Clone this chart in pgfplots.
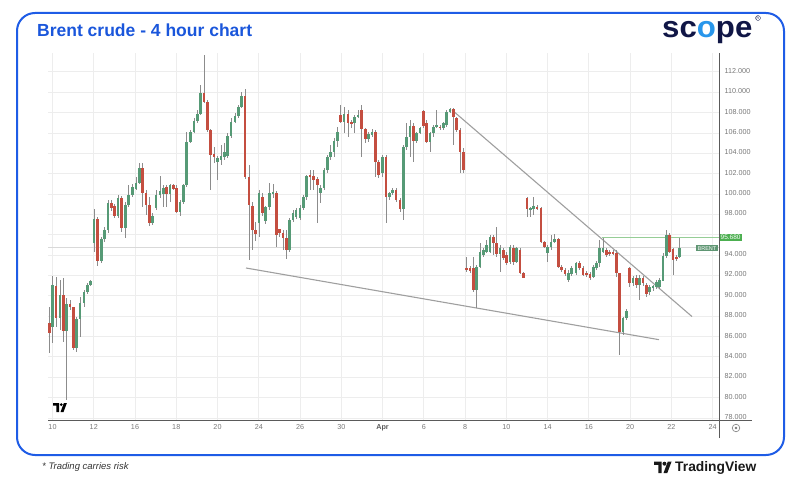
\documentclass[border=0pt]{standalone}
\usepackage{pgfplots}
\pgfplotsset{compat=1.18}
\usepackage{pgfplotstable}
\usepackage{graphicx}
\usepackage{fontspec}
\setmainfont{Liberation Sans}
\definecolor{upgreen}{RGB}{86,154,118}
\definecolor{downred}{RGB}{196,78,64}
\definecolor{wick}{RGB}{140,140,140}
\definecolor{framblue}{RGB}{30,92,230}
\definecolor{titleblue}{RGB}{26,86,219}
\definecolor{navy}{RGB}{16,22,70}
\definecolor{logoblue}{RGB}{40,150,235}
\definecolor{lblgray}{RGB}{120,120,120}
\definecolor{axgray}{RGB}{90,90,90}
\definecolor{lvlgreen}{RGB}{150,205,150}
\definecolor{boxgreen}{RGB}{76,175,80}
\definecolor{brentbox}{RGB}{95,150,115}

\pgfplotstableread{
x o h l c
49.3 87.28 88.92 84.33 86.36
52.7 86.95 91.93 85.32 91.04
56.0 90.95 91.87 86.95 87.77
60.0 87.77 91.54 86.60 90.06
63.3 90.06 91.70 85.48 86.53
66.7 86.53 89.74 79.75 89.18
70.0 89.18 89.57 88.60 88.85
73.3 88.85 88.92 84.66 84.82
76.7 84.82 87.93 84.50 87.67
80.0 87.67 89.90 85.97 89.25
84.0 89.25 90.55 88.92 90.39
87.3 90.39 91.20 90.20 91.04
90.7 91.04 91.54 90.95 91.44
94.0 95.20 98.48 94.32 97.50
97.3 97.50 97.76 92.91 93.44
101.3 93.44 95.79 93.18 95.53
104.7 95.53 96.78 95.30 96.45
108.0 96.45 99.40 96.19 99.13
111.3 99.13 99.40 98.35 98.58
114.7 98.80 99.00 97.60 97.82
118.0 97.82 99.89 97.60 99.56
121.3 99.56 99.80 96.28 96.61
125.3 96.61 99.23 95.63 98.90
128.7 98.90 100.87 98.74 99.89
132.7 99.89 101.00 99.73 100.71
136.0 100.50 101.70 100.40 101.10
139.3 101.10 103.00 101.00 102.50
142.7 102.50 103.00 98.74 100.05
146.0 100.05 100.40 97.90 98.90
149.3 98.90 99.70 96.80 97.10
152.7 97.10 98.10 96.90 97.80
156.0 98.60 100.40 98.40 99.90
160.0 99.90 101.75 99.56 100.30
163.3 100.00 100.87 98.74 100.60
166.7 100.70 100.87 98.70 100.00
170.0 100.00 101.00 99.20 100.87
173.3 100.87 101.00 100.40 100.50
176.7 100.60 100.87 98.10 98.25
180.0 98.25 99.40 97.80 99.20
183.3 99.20 101.00 99.00 100.87
186.7 100.87 106.10 100.70 105.13
190.7 105.13 106.30 104.96 106.10
194.0 106.10 107.42 105.95 107.16
197.3 107.16 108.24 106.93 107.84
200.7 107.84 110.69 107.74 109.94
204.0 109.94 113.64 108.90 108.99
207.3 108.99 109.20 106.10 106.27
210.7 106.27 106.40 100.38 103.80
214.0 103.96 104.60 103.00 103.65
217.7 103.10 103.70 101.36 103.50
221.0 103.30 104.80 102.80 103.70
224.3 103.65 104.96 103.30 104.14
227.7 103.70 105.95 103.50 105.68
231.0 105.68 107.42 105.45 107.10
235.0 107.10 107.90 106.93 107.68
238.3 107.68 108.70 107.42 108.56
241.7 108.56 110.04 108.40 109.61
245.0 109.61 110.27 101.50 101.69
249.0 101.69 102.83 93.50 98.90
252.3 98.80 99.20 94.50 96.45
255.7 96.45 97.20 95.40 96.10
259.0 97.10 100.38 95.80 100.10
262.3 99.70 100.10 97.80 98.10
265.7 97.30 98.80 97.00 98.70
269.7 98.74 101.03 98.40 100.05
273.0 100.05 101.00 99.60 100.20
276.3 100.05 100.30 94.80 95.96
279.7 96.51 96.60 95.80 96.19
283.0 96.19 96.50 94.50 95.63
286.3 95.63 96.45 93.57 94.48
289.7 94.48 97.60 94.30 97.43
293.0 97.43 98.40 97.20 98.09
296.0 97.76 98.60 97.50 98.41
300.0 97.60 98.90 97.40 98.58
303.3 98.58 99.90 98.40 99.72
306.7 99.72 101.85 99.40 101.75
310.0 101.85 102.34 100.38 101.69
313.3 101.75 102.34 100.38 101.36
317.3 101.43 101.62 97.10 100.87
320.7 100.05 100.87 99.07 100.61
324.0 100.61 102.50 100.38 102.34
327.3 102.34 103.81 102.01 103.65
330.7 103.65 104.80 103.32 104.14
334.0 104.14 105.45 103.65 105.22
337.3 105.22 106.60 104.63 106.11
340.7 107.74 108.73 106.93 107.09
344.0 107.09 108.56 105.94 107.84
348.0 107.84 108.24 105.62 106.93
351.3 107.09 107.30 106.50 106.86
354.7 106.93 107.74 105.94 107.58
358.0 107.58 108.24 107.42 107.74
361.3 108.24 108.73 103.65 106.34
365.3 106.34 106.43 104.96 105.35
368.7 105.35 106.10 105.10 105.85
372.0 105.78 106.40 105.60 106.11
375.3 106.11 106.27 101.69 103.16
378.7 103.16 103.32 101.52 101.85
382.7 102.01 103.81 101.69 103.65
386.0 103.65 103.81 97.10 99.66
389.3 99.66 100.20 99.40 100.05
392.7 100.05 100.60 99.90 100.38
396.0 100.38 100.60 99.20 99.40
400.0 99.40 99.56 98.25 98.48
403.3 98.48 104.80 97.43 104.63
406.7 104.63 106.93 104.31 105.62
410.0 105.62 107.25 103.65 106.66
413.3 106.66 106.93 103.16 105.22
416.7 105.22 106.11 104.96 106.01
420.0 106.01 106.60 105.90 106.43
423.3 108.17 108.24 106.43 106.66
426.7 106.93 107.25 104.96 105.12
430.0 105.12 106.11 104.14 105.94
433.3 105.94 106.76 105.62 106.60
436.7 106.60 108.24 106.43 106.76
440.0 106.60 106.80 106.30 106.50
443.3 106.43 107.10 106.30 106.93
446.7 106.76 108.24 106.60 108.07
450.0 108.07 108.45 107.90 108.30
453.3 108.30 108.40 104.80 107.51
456.7 107.42 107.58 106.11 106.27
460.0 106.27 106.43 102.01 104.14
463.3 104.14 104.47 102.01 102.34
466.7 92.75 93.83 92.36 92.49
470.0 92.68 92.90 92.20 92.42
473.3 92.68 93.83 90.39 90.56
476.7 90.56 93.01 88.75 92.85
480.0 92.85 95.14 92.68 94.32
483.3 93.99 94.65 93.83 94.48
486.7 94.32 95.47 94.16 94.98
490.0 94.32 95.96 94.16 95.79
493.3 95.79 95.96 93.99 95.14
496.7 95.14 96.78 93.83 94.06
500.0 94.06 94.98 92.36 94.65
503.3 94.48 94.70 93.50 93.67
506.7 93.99 94.32 93.01 93.17
510.0 93.27 95.00 93.10 94.81
513.3 94.71 94.98 93.01 93.34
516.7 93.34 94.80 93.20 94.65
520.0 94.48 94.65 92.10 92.26
523.7 92.26 92.36 91.70 91.77
527.0 99.63 99.72 97.76 98.51
530.3 98.51 98.74 97.76 98.58
533.7 98.51 99.72 97.92 98.84
537.0 98.74 98.90 98.40 98.58
541.0 98.64 98.74 95.14 95.24
544.3 95.24 95.37 94.65 94.81
547.7 94.16 94.98 93.34 94.81
551.0 94.81 95.96 94.48 95.30
554.3 95.30 96.02 95.14 95.57
558.3 95.57 95.63 92.68 92.85
561.7 92.85 93.00 92.30 92.52
565.0 92.52 92.70 91.90 92.10
568.3 91.54 92.52 91.31 92.19
571.7 92.10 92.90 91.90 92.75
576.0 92.19 93.30 92.00 93.17
579.3 93.17 93.40 92.50 92.68
583.0 92.68 92.90 91.90 92.03
586.7 92.26 92.40 91.80 92.03
590.0 92.10 92.30 91.50 91.70
593.3 91.87 93.00 91.70 92.85
596.7 92.68 93.40 92.50 93.24
599.7 93.17 95.47 92.85 94.65
603.0 94.32 95.63 94.16 94.65
606.3 94.48 94.65 93.80 93.99
609.7 94.32 94.50 93.90 94.06
613.0 94.32 94.50 94.00 94.16
616.3 94.22 94.48 91.87 92.19
619.7 92.19 92.26 84.17 86.46
623.0 86.46 87.93 86.13 87.77
626.3 87.77 88.70 87.60 88.52
629.7 92.68 92.85 90.88 91.21
633.0 91.21 91.90 91.00 91.70
636.3 91.70 92.03 90.72 91.05
639.7 91.05 92.03 89.57 91.70
643.0 91.70 91.90 91.00 91.21
646.3 91.05 91.20 89.90 90.16
649.7 90.39 91.05 90.06 90.88
653.0 90.72 91.10 90.50 90.95
656.3 90.88 91.50 90.70 91.37
659.7 90.88 91.70 90.70 91.54
663.0 91.47 94.16 91.40 93.89
666.3 93.89 96.45 93.66 95.96
669.7 95.96 96.12 94.16 94.32
673.0 94.55 94.65 92.03 93.50
676.3 93.83 94.00 93.40 93.57
679.7 93.83 95.63 93.66 94.65
}\candles

\begin{document}
\begin{tikzpicture}[x=1pt,y=1pt]
\useasboundingbox (0,0) rectangle (800,482);
% outer frame
\draw[framblue, line width=2pt, rounded corners=18pt] (17,27) rectangle (784,469);
% title
\node[anchor=west, inner sep=0pt, text=titleblue] at (37,452)
  {\fontsize{17.5}{19}\selectfont\bfseries Brent crude - 4 hour chart};
% scope logo
\node[anchor=base west, inner sep=0pt, text=navy] at (662,444)
  {\scalebox{1.04}[1]{\fontsize{30}{30}\selectfont\bfseries sc{\color{logoblue}o}pe}};
\node[circle, draw=navy, line width=0.35pt, inner sep=0.5pt, text=navy,
  font=\fontsize{3.5}{4}\selectfont] at (758,464) {R};

\begin{axis}[
  at={(48pt,62pt)}, anchor=south west, scale only axis,
  width=671pt, height=367pt,
  xmin=48, xmax=719, ymin=77.79, ymax=113.84,
  axis line style={draw=none},
  tick style={draw=none},
  xtick={52.5,93.75,135,176.25,217.5,258.75,300,341.25,382.5,423.75,465,506.25,547.5,588.75,630,671.25,712.5},
  xticklabels={10,12,16,18,20,24,26,30,{\textbf{\color{axgray}Apr}},6,8,10,14,16,20,22,24},
  typeset ticklabels with strut,
  ytick={78,80,82,84,86,88,90,92,94,98,100,102,104,106,108,110,112},
  extra y ticks={96},
  extra y tick labels={},
  extra tick style={grid=major},
  yticklabel pos=right,
  grid=major,
  major grid style={color=gray!14, line width=0.6pt},
  ticklabel style={font=\fontsize{7.2}{8}\selectfont, text=lblgray},
  yticklabel style={/pgf/number format/fixed, /pgf/number format/fixed zerofill,
     /pgf/number format/precision=3, /pgf/number format/assume math mode=true, xshift=2pt},
  clip=false,
]
% reference levels
\addplot[color=gray!30, line width=0.6pt] coordinates {(48,94.72) (719,94.72)};
\addplot[color=lvlgreen, line width=0.7pt] coordinates {(602,95.70) (719,95.70)};
% wedge lines
\addplot[color=gray!75, line width=1.1pt] coordinates {(452,108.24) (692,87.95)};
\addplot[color=gray!75, line width=1.1pt] coordinates {(246,92.72) (659,85.68)};
% wicks
\addplot[draw=none, mark=none, error bars/.cd, y dir=both, y explicit,
  error mark=none, error bar style={draw=wick, line width=0.7pt}]
  table[x=x, y expr={(\thisrow{h}+\thisrow{l})/2}, y error expr={(\thisrow{h}-\thisrow{l})/2}] {\candles};
% up bodies
\addplot[draw=none, mark=none, error bars/.cd, y dir=both, y explicit,
  error mark=none, error bar style={draw=upgreen, line width=2.9pt}]
  table[x=x, y expr={\thisrow{c}>=\thisrow{o} ? (\thisrow{o}+\thisrow{c})/2 : nan},
        y error expr={max(abs(\thisrow{c}-\thisrow{o})/2,0.06)}] {\candles};
% down bodies
\addplot[draw=none, mark=none, error bars/.cd, y dir=both, y explicit,
  error mark=none, error bar style={draw=downred, line width=2.9pt}]
  table[x=x, y expr={\thisrow{c}<\thisrow{o} ? (\thisrow{o}+\thisrow{c})/2 : nan},
        y error expr={max(abs(\thisrow{c}-\thisrow{o})/2,0.06)}] {\candles};
% price labels
\node[anchor=west, fill=boxgreen, text=white, inner xsep=1.5pt, inner ysep=1pt,
  font=\fontsize{6.5}{6.5}\selectfont] at (axis cs:719,95.70) {95.680};
\node[anchor=east, fill=brentbox, text=white, inner xsep=1.5pt, inner ysep=1pt,
  font=\fontsize{5.5}{6}\selectfont] at (axis cs:718,94.66) {BRENT};
\end{axis}

% axis lines
\draw[axgray, line width=0.7pt] (48,62) -- (752,62);
\draw[axgray, line width=0.7pt] (719,44) -- (719,429);
% settings icon
\draw[lblgray, line width=0.6pt] (736,54) circle (3.8);
\fill[lblgray] (736,54) circle (1.3);
% TV logo inside chart
\begin{scope}[shift={(53,70)}, scale=0.75]
  \fill[black] (0,12) -- (8,12) -- (8,0) -- (4.5,0) -- (4.5,8.5) -- (0,8.5) -- cycle;
  \fill[black] (11,9.8) circle (2.1);
  \fill[black] (10,0) -- (14,0) -- (18.5,12) -- (14.5,12) -- cycle;
\end{scope}
% footer
\node[anchor=west, inner sep=0pt, text=black!80] at (42,15)
  {\fontsize{9.5}{11}\selectfont\itshape * Trading carries risk};
\begin{scope}[shift={(654,9)}, scale=0.95]
  \fill[black!90] (0,12) -- (8,12) -- (8,0) -- (4.5,0) -- (4.5,8.5) -- (0,8.5) -- cycle;
  \fill[black!90] (11,9.8) circle (2.1);
  \fill[black!90] (10,0) -- (14,0) -- (18.5,12) -- (14.5,12) -- cycle;
\end{scope}
\node[anchor=west, inner sep=0pt, text=black!90] at (675,14.5)
  {\fontsize{13.8}{15}\selectfont\bfseries TradingView};
\end{tikzpicture}
\end{document}
